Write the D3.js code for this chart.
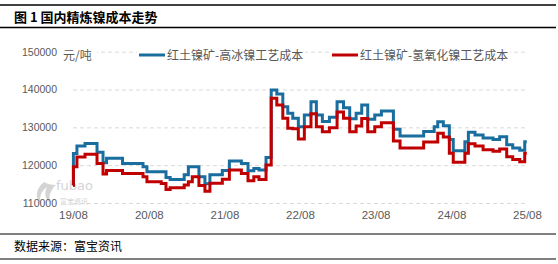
<!DOCTYPE html>
<html>
<head>
<meta charset="utf-8">
<script src="https://cdn.jsdelivr.net/npm/d3@7/dist/d3.min.js"></script>
<style>
body { margin: 0; background: #fff; }
</style>
</head>
<body>
<div id="chart"></div>
<script>
// data (step series, value holds until next date)
var dates = ["2019-08-01","2019-08-03","2019-08-20","2019-09-28","2019-11-25","2019-12-24","2020-01-10","2020-03-27",
  "2020-07-04","2020-07-23","2020-09-30","2020-10-23","2020-11-12","2021-01-19","2021-02-08","2021-02-27",
  "2021-03-31","2021-04-29","2021-05-23","2021-07-22","2021-08-25","2021-10-22","2021-11-23","2021-12-21",
  "2022-01-15","2022-02-18","2022-03-15","2022-04-11","2022-05-10","2022-06-03","2022-06-27","2022-07-24",
  "2022-08-22","2022-09-23","2022-10-19","2022-11-17","2022-12-21","2023-01-27","2023-02-27","2023-03-29",
  "2023-04-29","2023-05-26","2023-06-24","2023-07-28","2023-08-29","2023-10-26","2023-11-27","2024-03-20",
  "2024-05-10","2024-05-27","2024-06-23","2024-07-22","2024-08-10","2024-10-05","2024-10-22","2024-11-23",
  "2025-01-01","2025-02-18","2025-03-22","2025-04-25","2025-05-24","2025-06-27","2025-07-21","2025-07-31"];

var highIce = [114700,123100,125050,125700,123400,120640,121800,120470,
  119580,118250,118250,116770,116240,117500,119570,119570,
  116930,115100,117500,118600,121100,120470,118500,119150,
  118700,122060,139870,138800,135450,133700,132380,130160,
  133250,136780,133250,131550,132700,136780,135200,132250,
  133700,135900,132120,133250,134300,129500,127700,128900,
  130160,131480,130400,126800,123800,126190,128700,128000,
  127200,126820,127510,125400,124550,123950,126190,126190];

var hydroxide = [114700,119570,122150,122860,120470,117650,118600,117830,
  116930,115610,115180,113600,114000,114740,115610,116930,
  114600,113100,115250,116300,118700,117830,115850,116930,
  116240,120030,137670,135900,132380,129740,129600,126950,
  130160,133600,130160,128840,129900,134050,132380,128840,
  130380,132360,128850,130160,131220,126400,124560,126100,
  126100,128410,127430,123120,120800,123120,125640,125050,
  124100,123700,124300,122220,121530,120900,123120,123120];

var seriesNames = ["红土镍矿-高冰镍工艺成本", "红土镍矿-氢氧化镍工艺成本"];
var seriesColors = ["#1a6d9f", "#c00000"];
var yTicks = [110000, 120000, 130000, 140000, 150000];
var xTicks = ["2019-08-01","2020-08-01","2021-08-01","2022-08-01","2023-08-01","2024-08-01","2025-08-01"];

var W = 558, H = 264;
var parse = d3.timeParse("%Y-%m-%d");

var svg = d3.select("#chart").append("svg")
  .attr("width", W).attr("height", H)
  .style("display", "block");

var x = d3.scaleTime()
  .domain([parse("2019-08-01"), parse("2025-08-01")])
  .range([73, 527]);
var y = d3.scaleLinear()
  .domain([110000, 150000])
  .range([203, 51.7]);

// title block
svg.append("line").attr("x1", 0).attr("x2", 556).attr("y1", 5).attr("y2", 5)
  .attr("stroke", "#000").attr("stroke-width", 1.5);
svg.append("text").attr("x", 14).attr("y", 22)
  .attr("font-family", "Noto Sans CJK SC").attr("font-size", 13).attr("font-weight", "bold")
  .attr("fill", "#000")
  .text("图 1  国内精炼镍成本走势");
svg.append("line").attr("x1", 0).attr("x2", 556).attr("y1", 27.5).attr("y2", 27.5)
  .attr("stroke", "#000").attr("stroke-width", 1.5);

// watermark
var wm = svg.append("g").attr("fill", "#d4d4d4");
wm.append("path")
  .attr("d", "M44,182 C36,188 34,198 42,205 C38,198 41,191 47,187 C44,193 45,199 50,203 C48,195 52,188 56,185 C51,185 47,184 44,182 Z");
wm.append("text").attr("x", 56).attr("y", 190)
  .attr("font-family", "DejaVu Sans").attr("font-size", 13).text("fubao");
wm.append("text").attr("x", 60).attr("y", 204)
  .attr("font-family", "Noto Sans CJK SC").attr("font-size", 7).text("富宝资讯");

// y gridlines + labels
var yAxis = svg.append("g")
  .attr("transform", "translate(73,0)")
  .call(d3.axisLeft(y).tickValues(yTicks).tickSize(-454).tickPadding(16).tickFormat(d3.format("d")));
yAxis.select(".domain").remove();
yAxis.selectAll(".tick line").attr("stroke", "#d9d9d9").attr("stroke-dasharray", "4,3");
yAxis.selectAll(".tick text")
  .attr("font-family", "Liberation Sans").attr("font-size", 10.5).attr("fill", "#595959");

// x labels
var xAxis = svg.append("g")
  .attr("transform", "translate(0,203)")
  .call(d3.axisBottom(x).tickValues(xTicks.map(parse)).tickSize(0).tickPadding(8)
    .tickFormat(d3.timeFormat("%y/%m")));
xAxis.select(".domain").remove();
xAxis.selectAll(".tick text")
  .attr("font-family", "Liberation Sans").attr("font-size", 11.5).attr("fill", "#595959");

// lines
var pts = dates.map(function(d, i) { return { date: parse(d), v: [highIce[i], hydroxide[i]] }; });
[0, 1].forEach(function(k) {
  var line = d3.line()
    .curve(d3.curveStepAfter)
    .x(function(d) { return x(d.date); })
    .y(function(d) { return y(d.v[k]); });
  svg.append("path").datum(pts)
    .attr("d", line)
    .attr("fill", "none")
    .attr("stroke", seriesColors[k])
    .attr("stroke-width", 3)
    .attr("stroke-linejoin", "miter");
});

// unit + legend (white boxes hide the top gridline)
svg.append("rect").attr("x", 61).attr("y", 47).attr("width", 36).attr("height", 17).attr("fill", "#fff");
svg.append("text").attr("x", 63).attr("y", 60)
  .attr("font-family", "Noto Sans CJK SC").attr("font-size", 12).attr("fill", "#595959")
  .text("元/吨");

var legX = [139, 332];
seriesNames.forEach(function(name, k) {
  var g = svg.append("g").attr("transform", "translate(" + legX[k] + ",0)");
  var t = g.append("text").attr("x", 28).attr("y", 60)
    .attr("font-family", "Noto Sans CJK SC").attr("font-size", 12).attr("fill", "#595959")
    .text(name);
  var w = t.node().getComputedTextLength();
  g.insert("rect", "text").attr("x", -2).attr("y", 47).attr("width", w + 32).attr("height", 16).attr("fill", "#fff");
  g.append("line").attr("x1", 0).attr("x2", 26).attr("y1", 55).attr("y2", 55)
    .attr("stroke", seriesColors[k]).attr("stroke-width", 3);
});

// footer
svg.append("line").attr("x1", 0).attr("x2", 556).attr("y1", 234).attr("y2", 234)
  .attr("stroke", "#000").attr("stroke-width", 1.2);
svg.append("text").attr("x", 14).attr("y", 251)
  .attr("font-family", "Noto Sans CJK SC").attr("font-size", 12).attr("fill", "#000")
  .text("数据来源：富宝资讯");
svg.append("line").attr("x1", 0).attr("x2", 556).attr("y1", 259).attr("y2", 259)
  .attr("stroke", "#000").attr("stroke-width", 1.2);
</script>
</body>
</html>
